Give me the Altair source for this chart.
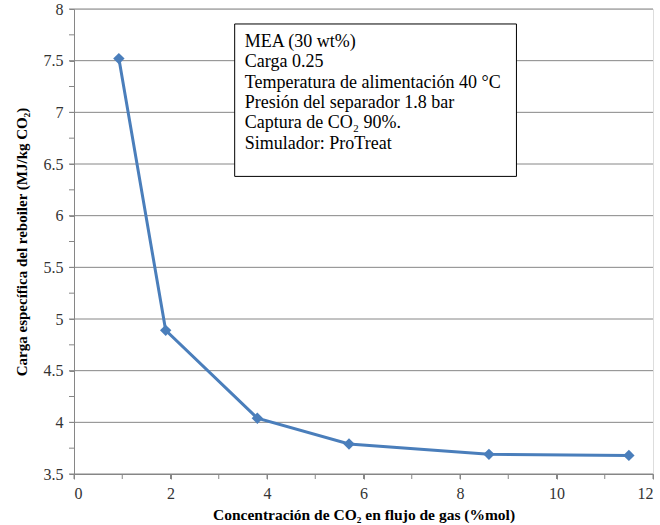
import altair as alt
import pandas as pd

conc = [0.93, 1.9, 3.8, 5.7, 8.6, 11.5]
carga = [7.52, 4.89, 4.04, 3.79, 3.69, 3.68]

note_lines = [
    "MEA (30 wt%)",
    "Carga 0.25",
    "Temperatura de alimentación 40 °C",
    "Presión del separador 1.8 bar",
    "Captura de CO₂ 90%.",
    "Simulador: ProTreat",
]

df = pd.DataFrame({"x": conc, "y": carga})

FONT = "Liberation Serif, Times New Roman, DejaVu Serif, serif"
BLUE = "#4A7EBB"
W, H = 579, 465

xs = alt.Scale(domain=[0, 12], nice=False)
ys = alt.Scale(domain=[3.5, 8], nice=False)

grid_y = pd.DataFrame({"y": [3.5 + 0.5 * i for i in range(10)]})
minor_y = pd.DataFrame({"y": [3.5 + 0.25 * i for i in range(19)]})
minor_x = pd.DataFrame({"x": list(range(13))})

base_x = alt.X("x:Q", scale=xs,
               axis=alt.Axis(values=[0, 2, 4, 6, 8, 10, 12], grid=False,
                             title="Concentración de CO₂ en flujo de gas (%mol)",
                             titleFont=FONT, titleFontSize=15.5, titleFontWeight="bold",
                             titleColor="black", titlePadding=6,
                             labelFont=FONT, labelFontSize=16, labelColor="#333",
                             domainColor="#868686", tickColor="#868686", tickSize=5,
                             labelPadding=6))
base_y = alt.Y("y:Q", scale=ys,
               axis=alt.Axis(values=[3.5 + 0.5 * i for i in range(10)], grid=False,
                             format="~g",
                             title="Carga específica del reboiler (MJ/kg CO₂)",
                             titleFont=FONT, titleFontSize=15, titleFontWeight="bold",
                             titleColor="black", titlePadding=14,
                             labelFont=FONT, labelFontSize=16, labelColor="#333",
                             domainColor="#868686", tickColor="#868686", tickSize=5,
                             labelPadding=6))

grid = alt.Chart(grid_y).mark_rule(color="#868686", strokeWidth=1).encode(
    y=alt.Y("y:Q", scale=ys), x=alt.value(0), x2=alt.value(W))

ytick = alt.Chart(minor_y).mark_rule(color="#868686").encode(
    y=alt.Y("y:Q", scale=ys), x=alt.value(-5), x2=alt.value(0))
xtick = alt.Chart(minor_x).mark_rule(color="#868686").encode(
    x=alt.X("x:Q", scale=xs), y=alt.value(H), y2=alt.value(H + 5))

line = alt.Chart(df).mark_line(color=BLUE, strokeWidth=3).encode(x=base_x, y=base_y)
pts = alt.Chart(df).mark_point(shape="diamond", filled=True, color=BLUE, size=130, opacity=1).encode(
    x=alt.X("x:Q", scale=xs), y=alt.Y("y:Q", scale=ys))

box_df = pd.DataFrame({"x": [3.33], "x2": [9.17], "y": [7.855], "y2": [6.38]})
box = alt.Chart(box_df).mark_rect(fill="white", stroke="black", strokeWidth=1).encode(
    x=alt.X("x:Q", scale=xs), x2="x2:Q", y=alt.Y("y:Q", scale=ys), y2="y2:Q")

note_df = pd.DataFrame({"t": note_lines})
note_df["x"] = 3.54
note_df["y"] = [7.68 - 0.197 * i for i in range(len(note_lines))]
notes = alt.Chart(note_df).mark_text(align="left", baseline="middle", font=FONT,
                                      fontSize=18, color="black").encode(
    x=alt.X("x:Q", scale=xs), y=alt.Y("y:Q", scale=ys), text="t:N")

chart = alt.layer(grid, ytick, xtick, line, pts, box, notes).properties(
    width=W, height=H,
    autosize=alt.AutoSizeParams(type="none"),
    padding={"left": 74, "top": 9, "right": 7, "bottom": 51},
).configure_view(stroke="#868686", strokeWidth=1).configure(background="white")

chart.save("out.html", embed_options={"renderer": "svg", "actions": False})
